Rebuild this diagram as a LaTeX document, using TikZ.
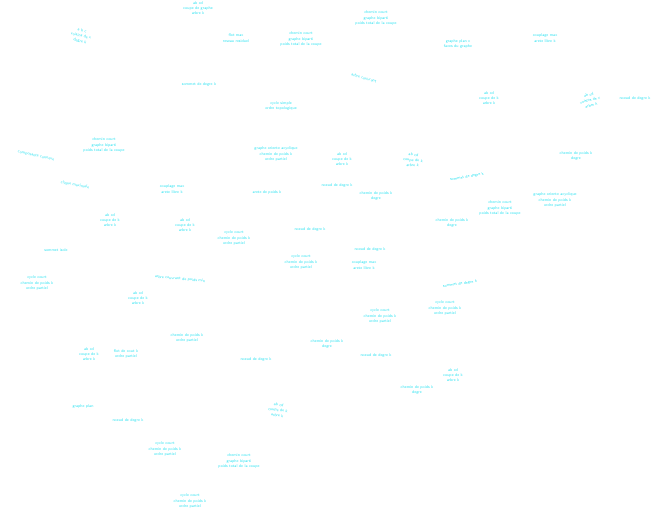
\documentclass[tikz,border=0pt]{standalone}
\definecolor{cyanclair}{RGB}{40,225,240}
\begin{document}
\begin{tikzpicture}[x=0.02cm,y=-0.02cm]
	\tikzstyle{etiquette}=[text=cyanclair,inner sep=0pt,align=center,font=\sffamily\fontsize{2.3}{3}\selectfont]
	\useasboundingbox (0,0) rectangle (671,510);
	\node[etiquette] (n1) at (198,8) {ab cd\\ coupe de graphe\\ arbre k};
	\node[etiquette,rotate=-12] (n2) at (81,36) {a b c\\ voisins de x\\ degre k};
	\node[etiquette] (n3) at (199,85) {sommet de degre k};
	\node[etiquette] (n4) at (376,18) {chemin court\\ graphe biparti\\ poids total de la coupe};
	\node[etiquette] (n5) at (236,38) {flot max\\ reseau residuel};
	\node[etiquette] (n6) at (301,39) {chemin court\\ graphe biparti\\ poids total de la coupe};
	\node[etiquette,rotate=-15] (n7) at (364,78) {arbre couvrant};
	\node[etiquette] (n8) at (281,106) {cycle simple\\ ordre topologique};
	\node[etiquette] (n9) at (458,44) {graphe plan x\\ faces du graphe};
	\node[etiquette] (n10) at (545,38) {couplage max\\ arete libre k};
	\node[etiquette] (n11) at (489,98) {ab cd\\ coupe de k\\ arbre k};
	\node[etiquette,rotate=15] (n12) at (590,100) {ab cd\\ voisins de x\\ arbre k};
	\node[etiquette] (n13) at (635,99) {noeud de degre k};
	\node[etiquette] (n14) at (104,145) {chemin court\\ graphe biparti\\ poids total de la coupe};
	\node[etiquette,rotate=-12] (n15) at (36,156) {composante connexe};
	\node[etiquette,rotate=-10] (n16) at (75,185) {clique maximale};
	\node[etiquette] (n17) at (172,189) {couplage max\\ arete libre k};
	\node[etiquette] (n18) at (110,220) {ab cd\\ coupe de k\\ arbre k};
	\node[etiquette] (n19) at (185,225) {ab cd\\ coupe de k\\ arbre k};
	\node[etiquette] (n20) at (56,250) {sommet isole};
	\node[etiquette] (n21) at (276,154) {graphe oriente acyclique\\ chemin de poids k\\ ordre partiel};
	\node[etiquette] (n22) at (342,159) {ab cd\\ coupe de k\\ arbre k};
	\node[etiquette,rotate=-5] (n23) at (413,160) {ab cd\\ coupe de k\\ arbre k};
	\node[etiquette] (n24) at (337,186) {noeud de degre k};
	\node[etiquette] (n25) at (267,192) {arete de poids k};
	\node[etiquette] (n26) at (376,196) {chemin de poids k\\ degre};
	\node[etiquette] (n27) at (310,230) {noeud de degre k};
	\node[etiquette] (n28) at (234,238) {cycle court\\ chemin de poids k\\ ordre partiel};
	\node[etiquette] (n29) at (370,250) {noeud de degre k};
	\node[etiquette] (n30) at (576,156) {chemin de poids k\\ degre};
	\node[etiquette,rotate=10] (n31) at (467,177) {sommet de degre k};
	\node[etiquette] (n32) at (555,200) {graphe oriente acyclique\\ chemin de poids k\\ ordre partiel};
	\node[etiquette] (n33) at (500,208) {chemin court\\ graphe biparti\\ poids total de la coupe};
	\node[etiquette] (n34) at (452,223) {chemin de poids k\\ degre};
	\node[etiquette] (n35) at (37,283) {cycle court\\ chemin de poids k\\ ordre partiel};
	\node[etiquette,rotate=-5] (n36) at (180,279) {arbre couvrant de poids min};
	\node[etiquette] (n37) at (138,298) {ab cd\\ coupe de k\\ arbre k};
	\node[etiquette] (n38) at (187,338) {chemin de poids k\\ ordre partiel};
	\node[etiquette] (n39) at (89,354) {ab cd\\ coupe de k\\ arbre k};
	\node[etiquette] (n40) at (126,354) {flot de cout k\\ ordre partiel};
	\node[etiquette] (n41) at (301,262) {cycle court\\ chemin de poids k\\ ordre partiel};
	\node[etiquette] (n42) at (364,265) {couplage max\\ arete libre k};
	\node[etiquette] (n43) at (380,316) {cycle court\\ chemin de poids k\\ ordre partiel};
	\node[etiquette] (n44) at (445,308) {cycle court\\ chemin de poids k\\ ordre partiel};
	\node[etiquette] (n45) at (327,344) {chemin de poids k\\ degre};
	\node[etiquette] (n46) at (256,360) {noeud de degre k};
	\node[etiquette] (n47) at (376,356) {noeud de degre k};
	\node[etiquette,rotate=8] (n48) at (460,284) {sommet de degre k};
	\node[etiquette] (n49) at (453,375) {ab cd\\ coupe de k\\ arbre k};
	\node[etiquette] (n50) at (83,407) {graphe plan};
	\node[etiquette] (n51) at (128,421) {noeud de degre k};
	\node[etiquette] (n52) at (165,449) {cycle court\\ chemin de poids k\\ ordre partiel};
	\node[etiquette] (n53) at (190,501) {cycle court\\ chemin de poids k\\ ordre partiel};
	\node[etiquette] (n54) at (417,390) {chemin de poids k\\ degre};
	\node[etiquette,rotate=-8] (n55) at (278,410) {ab cd\\ coupe de k\\ arbre k};
	\node[etiquette] (n56) at (239,461) {chemin court\\ graphe biparti\\ poids total de la coupe};
	\end{tikzpicture}
\end{document}
